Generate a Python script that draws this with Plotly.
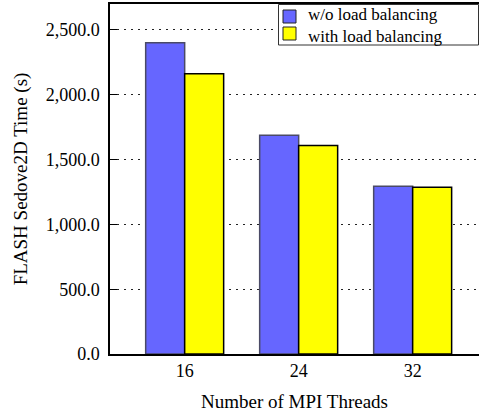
import plotly.graph_objects as go

threads = ["16", "24", "32"]
without_lb = [2402, 1687, 1295]
with_lb = [2162, 1608, 1287]
series_names = ["w/o load balancing", "with load balancing"]
series_colors = ["#6666FF", "#FFFF00"]
series_edges = ["#4a4a66", "#000000"]

FONT = "Liberation Serif"

fig = go.Figure()
for vals, name, col, edge in zip([without_lb, with_lb], series_names, series_colors, series_edges):
    fig.add_trace(go.Bar(
        x=threads, y=vals, name=name,
        marker=dict(color=col, line=dict(color=edge, width=1.5)),
    ))

# Legend drawn as a boxed key in paper coordinates (top-right, like the reference)
L, R, T, B = 110, 479, 4, 354
def px(x):
    return (x - L) / (R - L)
def py(y):
    return (B - y) / (B - T)

shapes = [dict(type="rect", xref="paper", yref="paper",
               x0=px(278.5), x1=px(478.5), y0=py(45), y1=py(4.5),
               line=dict(color="#333333", width=1), fillcolor="white", layer="above")]
annotations = []
row_centers = [16.5, 33.5]
text_anchor = [(24.6, "bottom"), (25.8, "top")]
for name, col, yc, (ty, anc) in zip(series_names, series_colors, row_centers, text_anchor):
    shapes.append(dict(type="rect", xref="paper", yref="paper",
                       x0=px(283), x1=px(296), y0=py(yc + 6.5), y1=py(yc - 6.5),
                       line=dict(color="#222222", width=1), fillcolor=col, layer="above"))
    annotations.append(dict(xref="paper", yref="paper", x=px(307), y=py(ty),
                            xanchor="left", yanchor=anc, showarrow=False,
                            borderpad=0,
                            text=name, font=dict(family=FONT, size=17, color="black")))

fig.update_layout(
    width=479, height=412,
    margin=dict(l=110, r=0, t=4, b=58, autoexpand=False),
    paper_bgcolor="white", plot_bgcolor="white",
    barmode="group", bargap=0.316, bargroupgap=0,
    font=dict(family=FONT, size=18, color="black"),
    showlegend=False,
    shapes=shapes,
    annotations=annotations,
    xaxis=dict(
        type="category", range=[-0.655, 2.582],
        showline=True, linecolor="black", linewidth=1.5, mirror=True,
        ticks="inside", ticklen=7, tickcolor="black",
        showgrid=False,
        title=dict(text="Number of MPI Threads", font=dict(family=FONT, size=19, color="black"), standoff=16),
        tickfont=dict(family=FONT, size=18, color="black"),
    ),
    yaxis=dict(
        range=[0, 2700],
        tickvals=[0, 500, 1000, 1500, 2000, 2500],
        tickformat=",.1f",
        showline=True, linecolor="black", linewidth=1.5, mirror=False,
        ticks="inside", ticklen=7, tickcolor="black",
        ticklabelstandoff=5,
        showgrid=True, gridcolor="#222222", griddash="2px,5px", gridwidth=1,
        zeroline=False,
        title=dict(text="FLASH Sedove2D Time (s)", font=dict(family=FONT, size=19, color="black"), standoff=13),
        tickfont=dict(family=FONT, size=18, color="black"),
    ),
)

fig.write_html("out.html")
